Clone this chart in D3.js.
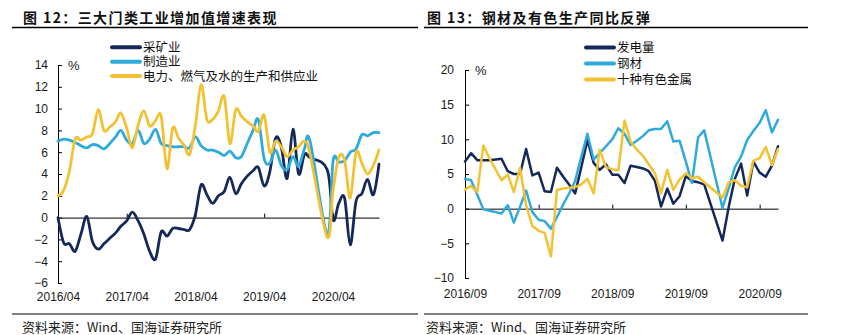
<!DOCTYPE html>
<html><head><meta charset="utf-8">
<script src="https://cdn.jsdelivr.net/npm/d3@7"></script>
<style>
body{margin:0;background:#fff;}
svg{display:block;background:#fff;}
.tick text{font-family:"Liberation Sans",Arial,sans-serif;font-size:12px;fill:#1a1a1a;}
.domain,.tick line{stroke:#000;stroke-width:1px;}
</style></head><body>
<svg id="c" width="845" height="335"></svg>
<script>
// ---------- data ----------
const leftStart = [2016, 4];   // monthly series start (year, month)
const rightStart = [2016, 9];
const leftXTicks = ["2016/04","2017/04","2018/04","2019/04","2020/04"];
const rightXTicks = ["2016/09","2017/09","2018/09","2019/09","2020/09"];
const leftYTicks = [-6,-4,-2,0,2,4,6,8,10,12,14];
const rightYTicks = [-10,-5,0,5,10,15,20];
const leftSeriesNames = ["采矿业","制造业","电力、燃气及水的生产和供应业"];
const rightSeriesNames = ["发电量","钢材","十种有色金属"];

// 2016/04 - 2020/12 (Jan/Feb 2020 not published)
const mining = [0.0,-2.3,-2.4,-3.1,-1.5,0.1,-2.2,-2.9,-2.4,-1.9,
  -1.4,-0.8,-0.3,0.5,-0.3,-1.5,-3.1,-3.8,-1.3,-1.7,
  -1.0,-1.0,-1.1,-1.1,0.3,3.0,2.1,1.3,2.0,2.4,
  3.7,2.2,3.1,3.8,4.3,4.6,2.9,4.2,7.3,6.5,
  3.6,8.1,4.0,5.8,5.5,null,null,4.4,-0.2,1.3,
  1.8,-2.5,1.5,2.2,3.5,2.1,4.9];
const manufacturing = [7.0,7.2,7.1,6.9,6.6,6.4,6.7,6.6,6.3,6.8,
  7.4,8.0,7.1,6.8,8.0,6.8,7.2,8.1,6.8,6.6,
  6.5,6.5,6.5,6.4,7.4,6.6,6.2,6.2,6.0,5.7,
  6.1,5.5,5.6,6.8,8.0,9.0,5.4,5.0,6.2,4.8,
  4.4,5.6,4.7,6.3,7.0,null,null,-1.5,5.2,5.1,
  5.2,6.0,6.3,7.6,7.5,7.8,7.8];
const utilities = [2.0,2.5,4.3,7.2,7.1,7.4,7.7,9.9,8.0,8.3,
  8.8,9.6,8.2,6.4,8.5,9.8,8.4,8.9,9.3,4.5,
  8.2,7.3,6.6,5.8,8.5,12.2,9.0,9.0,9.8,11.1,
  6.8,9.9,9.3,8.8,8.4,7.9,9.4,6.0,7.0,6.5,
  5.6,6.2,6.5,7.0,5.8,null,null,-1.8,2.5,5.5,
  5.3,1.8,6.0,5.0,4.0,4.8,6.2];

// 2016/09 - 2020/12
const power = [6.8,8.0,7.0,7.0,7.0,7.1,7.2,5.4,5.0,5.0,
  8.6,4.8,5.2,2.5,2.4,5.9,4.6,3.4,2.2,6.0,
  9.9,6.6,5.6,6.4,4.9,4.9,3.7,6.2,6.0,5.8,
  5.4,4.0,0.3,2.9,0.7,1.8,4.7,4.0,3.8,3.5,
  null,null,-4.6,0.3,4.3,6.5,1.9,6.8,5.2,4.6,
  6.2,9.0];
const steel = [4.3,4.1,2.0,-0.1,-0.3,-0.5,-0.7,0.5,-2.0,0.3,
  2.6,-0.5,-1.6,-1.8,-2.9,-1.2,0.6,2.3,4.0,7.5,
  10.8,7.1,8.0,9.0,10.0,11.6,10.8,9.2,9.8,10.5,
  11.3,11.5,11.5,12.6,9.7,9.8,6.8,3.7,10.3,11.3,
  null,null,0.1,3.0,6.0,7.5,9.9,11.2,12.4,14.2,
  11.0,12.8];
const nonferrous = [2.7,3.3,2.4,9.1,7.2,5.6,4.1,4.9,2.4,5.9,
  0.5,-2.5,-3.2,-3.5,-6.9,2.7,2.9,3.0,3.1,3.5,
  4.3,2.2,8.5,6.0,5.7,5.5,12.7,9.7,8.5,7.6,
  6.4,5.1,2.2,5.6,2.7,4.2,5.1,4.4,4.6,3.8,
  null,null,1.6,3.8,4.1,3.3,3.1,6.9,7.3,8.9,
  6.3,8.6];

const colors = ["#14295a","#2faadc","#f3c232"];

// ---------- drawing ----------
const svg = d3.select("#c");
const parse = d3.timeParse("%Y/%m");
const fmt = d3.timeFormat("%Y/%m");
const cjk = '"Noto Sans CJK SC","Noto Sans",sans-serif';
const legFontFam = '"Liberation Sans","Noto Sans CJK SC",sans-serif';

function toPoints(start, arr){
  const s = new Date(start[0], start[1]-1, 1);
  return arr.map((v,i)=>({d:d3.timeMonth.offset(s,i), v:v})).filter(p=>p.v!==null);
}

function panel(o){
  const g = svg.append("g");
  const s = new Date(o.start[0], o.start[1]-1, 1);
  const e = d3.timeMonth.offset(s, o.series[0].length-1);
  const x = d3.scaleTime().domain([s,e]).range(o.xr);
  const y = d3.scaleLinear().domain(o.yd).range(o.yr);

  // title
  g.append("text").attr("x",o.titleX).attr("y",23)
    .style("font-family",cjk).style("font-weight","700").style("font-size","14px")
    .style("letter-spacing","1.4px").attr("fill","#111").text(o.title);
  g.append("line").attr("x1",o.lineX[0]).attr("x2",o.lineX[1]).attr("y1",27.5).attr("y2",27.5)
    .attr("stroke","#000").attr("stroke-width",1.4);
  g.append("line").attr("x1",o.lineX[0]).attr("x2",o.lineX[1]).attr("y1",314).attr("y2",314)
    .attr("stroke","#000").attr("stroke-width",1.2);
  g.append("text").attr("x",o.titleX-1).attr("y",332)
    .style("font-family",cjk).style("font-size","13px").attr("fill","#222")
    .text("资料来源：Wind、国海证券研究所");

  // y axis
  g.append("g").attr("transform",`translate(${o.xr[0]},0)`)
    .call(d3.axisLeft(y).tickValues(o.yTicks).tickSize(-4).tickSizeOuter(0).tickPadding(o.yPad));
  // zero axis with ticks pointing up
  g.append("g").attr("transform",`translate(0,${y(0)})`)
    .call(d3.axisBottom(x).tickValues(o.xTicks.map(parse)).tickSize(-4).tickSizeOuter(0).tickFormat(""));
  // x labels at bottom
  const xl = g.append("g").attr("transform",`translate(0,${o.yr[0]})`)
    .call(d3.axisBottom(x).tickValues(o.xTicks.map(parse)).tickSize(0).tickPadding(o.xPad).tickFormat(fmt));
  xl.select(".domain").remove();

  g.append("text").attr("x",o.pctX).attr("y",o.pctY)
    .style("font-family",'"Liberation Sans",Arial,sans-serif').style("font-size","13px")
    .attr("fill","#1a1a1a").text("%");

  // lines
  const line = d3.line().x(p=>x(p.d)).y(p=>y(p.v)).curve(o.curve);
  o.series.forEach((arr,i)=>{
    g.append("path").datum(toPoints(o.start,arr))
      .attr("fill","none").attr("stroke",colors[i]).attr("stroke-width",o.sw)
      .attr("stroke-linejoin","round").attr("stroke-linecap","round").attr("d",line);
  });

  // legend
  o.names.forEach((n,i)=>{
    const cy = o.legY[i];
    g.append("line").attr("x1",o.legX).attr("x2",o.legX+o.legLen).attr("y1",cy).attr("y2",cy)
      .attr("stroke",colors[i]).attr("stroke-width",4).attr("stroke-linecap","round");
    g.append("text").attr("x",o.legX+o.legLen+3).attr("y",cy+4.5)
      .style("font-family",legFontFam).style("font-size",o.legFont).attr("fill","#111").text(n);
  });
}

panel({
  title:"图 12：三大门类工业增加值增速表现", titleX:23, lineX:[12,418],
  start:leftStart, series:[mining,manufacturing,utilities], names:leftSeriesNames,
  xr:[58,379], yd:[-6,14], yr:[283,65], yTicks:leftYTicks, xTicks:leftXTicks,
  yPad:10, xPad:9.5, pctX:68, pctY:70,
  curve:d3.curveCardinal.tension(0), sw:2.8,
  legX:112, legLen:28, legY:[47.3,61.7,76.1], legFont:"12.5px"
});
panel({
  title:"图 13：钢材及有色生产同比反弹", titleX:427, lineX:[424,808],
  start:rightStart, series:[power,steel,nonferrous], names:rightSeriesNames,
  xr:[465,778], yd:[-10,20], yr:[278,70], yTicks:rightYTicks, xTicks:rightXTicks,
  yPad:11, xPad:11.8, pctX:475, pctY:75,
  curve:d3.curveLinear, sw:2.5,
  legX:586, legLen:28, legY:[47.5,63.5,79.5], legFont:"12.5px"
});
</script>
</body></html>
